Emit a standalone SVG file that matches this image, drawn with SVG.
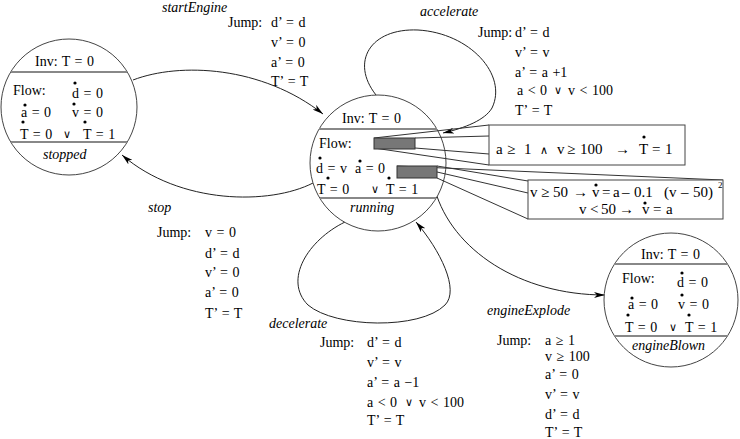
<svg xmlns="http://www.w3.org/2000/svg" width="740" height="439" viewBox="0 0 740 439">
<style>
text{font-family:"Liberation Serif","Times New Roman",serif;font-size:14px;fill:#000;word-spacing:1px}
.it{font-style:italic}
.or{font-family:"DejaVu Serif",serif;font-size:11px}
.bx{font-size:15px;word-spacing:0}
.node{fill:#fff;stroke:#444;stroke-width:1}
.sep{stroke:#888;stroke-width:2}
.edge{fill:none;stroke:#222;stroke-width:1}
.call{fill:none;stroke:#333;stroke-width:1}
.box{fill:#fff;stroke:#444;stroke-width:1}
.bar{fill:#777;stroke:#333;stroke-width:1}
.dot{fill:#000}
</style>
<defs>
<marker id="arr" viewBox="0 0 11 6" refX="11" refY="3" markerWidth="11" markerHeight="6" markerUnits="userSpaceOnUse" orient="auto">
<path d="M0,0 L11,3 L0,6 L3,3 z" fill="#000"/>
</marker>
</defs>
<rect width="740" height="439" fill="#fff"/>

<g id="connectors">
<path class="edge" d="M133,80 C180,62 262,66 323,114" marker-end="url(#arr)"/>
<path class="edge" d="M313,183 C270,205 180,205 122,155" marker-end="url(#arr)"/>
<path class="edge" d="M376,95 C350,62 370,28 418,30 C470,33 508,75 492,108 C485,120 465,128 443,133" marker-end="url(#arr)"/>
<path class="edge" d="M345,222 C308,240 283,280 308,305 C335,328 420,330 445,305 C460,290 440,250 416,222" marker-end="url(#arr)"/>
<path class="edge" d="M435,190 C452,250 520,295 605,295" marker-end="url(#arr)"/>
</g>

<g id="stopped">
<circle class="node" cx="69" cy="107" r="68"/>
<line class="sep" x1="10.7" y1="72" x2="127.3" y2="72"/>
<line class="sep" x1="10.7" y1="142" x2="127.3" y2="142"/>
<text x="35" y="66">Inv: T = 0</text>
<text x="13" y="95">Flow:</text>
<text x="72" y="98">d = 0</text>
<text x="21" y="117">a = 0</text>
<text x="72" y="117">v = 0</text>
<text x="20" y="139">T = 0</text>
<text class="or" x="63" y="138">∨</text>
<text x="83" y="139">T = 1</text>
<text class="it" x="43" y="159">stopped</text>
<circle class="dot" cx="75" cy="83" r="1.6"/>
<circle class="dot" cx="25" cy="105" r="1.6"/>
<circle class="dot" cx="74" cy="104" r="1.6"/>
<circle class="dot" cx="23" cy="122" r="1.6"/>
<circle class="dot" cx="85" cy="122" r="1.6"/>
</g>

<g id="running">
<circle class="node" cx="378" cy="163" r="68"/>
<line class="sep" x1="319" y1="129" x2="437" y2="129"/>
<line class="sep" x1="320" y1="198" x2="436" y2="198"/>
<text x="342" y="123">Inv: T = 0</text>
<text x="319" y="148">Flow:</text>
<text x="316" y="173">d = v</text>
<text x="355" y="173">a = 0</text>
<text x="317" y="194">T = 0</text>
<text class="or" x="371" y="193">∨</text>
<text x="386" y="194">T = 1</text>
<text class="it" x="350" y="212">running</text>
<circle class="dot" cx="320" cy="158" r="1.6"/>
<circle class="dot" cx="360" cy="161" r="1.6"/>
<circle class="dot" cx="328" cy="178" r="1.6"/>
<circle class="dot" cx="389" cy="178" r="1.6"/>
</g>

<g id="engineBlown">
<circle class="node" cx="671" cy="300" r="67"/>
<line class="sep" x1="614" y1="264" x2="728" y2="264"/>
<line class="sep" x1="614" y1="336" x2="728" y2="336"/>
<text x="641" y="259">Inv: T = 0</text>
<text x="622" y="283">Flow:</text>
<text x="677" y="287">d = 0</text>
<text x="628" y="309">a = 0</text>
<text x="678" y="309">v = 0</text>
<text x="625" y="332">T = 0</text>
<text class="or" x="669" y="331">∨</text>
<text x="685" y="332">T = 1</text>
<text class="it" x="632" y="350">engineBlown</text>
<circle class="dot" cx="682" cy="273" r="1.6"/>
<circle class="dot" cx="632" cy="298" r="1.6"/>
<circle class="dot" cx="682" cy="295" r="1.6"/>
<circle class="dot" cx="628" cy="315" r="1.6"/>
<circle class="dot" cx="689" cy="315" r="1.6"/>
</g>

<g id="callout-1">
<line class="call" x1="374" y1="138" x2="489" y2="125"/>
<line class="call" x1="415" y1="138" x2="489" y2="136"/>
<line class="call" x1="415" y1="148" x2="489" y2="154"/>
<line class="call" x1="374" y1="148" x2="489" y2="165"/>
<rect class="bar" x="374" y="138" width="41" height="11"/>
<rect class="box" x="489" y="125" width="196" height="40"/>
<text class="bx" y="154"><tspan x="496">a</tspan><tspan x="507">≥</tspan><tspan x="524">1</tspan><tspan class="or" x="540">∧</tspan><tspan x="557">v</tspan><tspan x="567">≥</tspan><tspan x="580">100</tspan><tspan x="615">→</tspan><tspan x="639">T</tspan><tspan x="652">=</tspan><tspan x="665">1</tspan></text>
<circle class="dot" cx="644" cy="137" r="1.6"/>
</g>

<g id="callout-2">
<line class="call" x1="397" y1="166" x2="723" y2="180"/>
<line class="call" x1="437" y1="166" x2="528" y2="181"/>
<line class="call" x1="437" y1="172" x2="528" y2="193"/>
<line class="call" x1="437" y1="178" x2="528" y2="219"/>
<rect class="bar" x="397" y="166" width="40" height="12"/>
<rect class="box" x="528" y="180" width="195" height="39"/>
<text class="bx" y="197"><tspan x="530">v</tspan><tspan x="541">≥</tspan><tspan x="553">50</tspan><tspan x="573">→</tspan><tspan x="592">v</tspan><tspan x="602">=</tspan><tspan x="613">a</tspan><tspan x="622">–</tspan><tspan x="634">0.1</tspan><tspan x="664">(v</tspan><tspan x="681">–</tspan><tspan x="693">50)</tspan></text>
<text x="718" y="188" style="font-size:9px">2</text>
<text class="bx" y="214"><tspan x="579">v</tspan><tspan x="590">&lt;</tspan><tspan x="601">50</tspan><tspan x="619">→</tspan><tspan x="642">v</tspan><tspan x="653">=</tspan><tspan x="666">a</tspan></text>
<circle class="dot" cx="596" cy="185" r="1.6"/>
<circle class="dot" cx="645" cy="203" r="1.6"/>
</g>

<g id="label-startEngine">
<text class="it" x="162" y="12">startEngine</text>
<text x="228" y="27">Jump:</text>
<text x="271" y="27">d’ = d</text>
<text x="271" y="47">v’ = 0</text>
<text x="271" y="67">a’ = 0</text>
<text x="271" y="86">T’ = T</text>
</g>

<g id="label-accelerate">
<text class="it" x="420" y="16">accelerate</text>
<text x="478" y="37">Jump:</text>
<text x="515" y="37">d’ = d</text>
<text x="515" y="57">v’ = v</text>
<text x="515" y="77">a’ = a +1</text>
<text y="95"><tspan x="517">a &lt; 0</tspan><tspan class="or" x="554" dy="-1">∨</tspan><tspan x="568" dy="1">v &lt; 100</tspan></text>
<text x="515" y="115">T’ = T</text>
</g>

<g id="label-stop">
<text class="it" x="148" y="212">stop</text>
<text x="157" y="237">Jump:</text>
<text x="205" y="237">v = 0</text>
<text x="205" y="258">d’ = d</text>
<text x="205" y="277">v’ = 0</text>
<text x="205" y="297">a’ = 0</text>
<text x="205" y="318">T’ = T</text>
</g>

<g id="label-decelerate">
<text class="it" x="269" y="328">decelerate</text>
<text x="320" y="347">Jump:</text>
<text x="367" y="347">d’ = d</text>
<text x="367" y="367">v’ = v</text>
<text x="367" y="387">a’ = a −1</text>
<text y="407"><tspan x="367">a &lt; 0</tspan><tspan class="or" x="405" dy="-1">∨</tspan><tspan x="419" dy="1">v &lt; 100</tspan></text>
<text x="367" y="425">T’ = T</text>
</g>

<g id="label-engineExplode">
<text class="it" x="487" y="315">engineExplode</text>
<text x="497" y="345">Jump:</text>
<text x="545" y="345">a  ≥ 1</text>
<text x="545" y="361">v ≥ 100</text>
<text x="545" y="379">a’ = 0</text>
<text x="545" y="399">v’ = v</text>
<text x="545" y="419">d’ = d</text>
<text x="545" y="437">T’ = T</text>
</g>
</svg>
